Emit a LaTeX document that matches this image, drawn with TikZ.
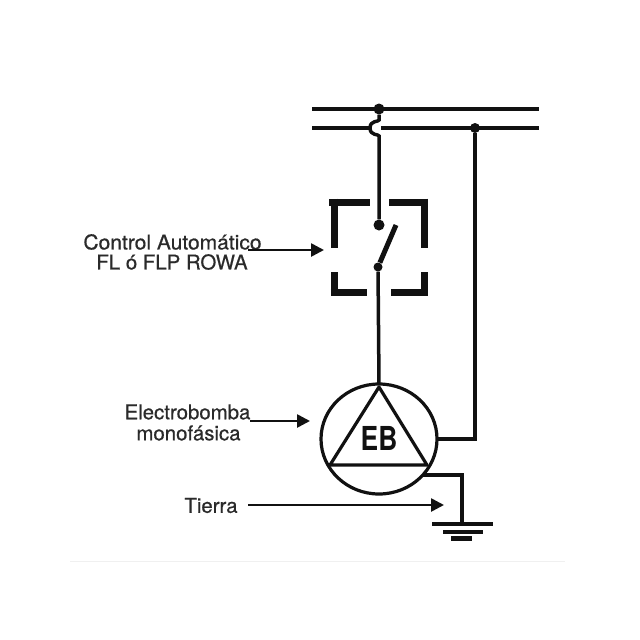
\documentclass[tikz,border=0pt]{standalone}
\usepackage{fontspec}
\setmainfont{TeX Gyre Heros}
\usetikzlibrary{arrows.meta,shapes.geometric}
\definecolor{ink}{HTML}{111111}
\definecolor{txt}{HTML}{2A2A2A}
\newfontfamily\lblfont[FakeBold=0.6]{TeX Gyre Heros}
\newfontfamily\ebfont[FakeStretch=0.8]{TeX Gyre Heros}
\tikzset{
 x=1pt,y=-1pt,
 wire/.style={draw=ink,line width=3.5pt},
 bus/.style={draw=ink,line width=4pt},
 frame/.style={draw=ink,line width=7pt,line cap=butt,line join=miter},
 pointer/.style={draw=ink,line width=2.6pt,-{Triangle[length=13pt,width=13pt]}},
 label/.style={text=txt,font=\lblfont\fontsize{20.4}{22}\selectfont,inner sep=0pt,align=center},
 dot/.style={circle,fill=ink,inner sep=0pt,minimum size=#1},
 groundbar/.style={draw=ink,line cap=butt},
}
\begin{document}
\begin{tikzpicture}
\useasboundingbox (0,0) rectangle (640,640);
% buses
\coordinate (busAL) at (312,109); \coordinate (busAR) at (539,109);
\coordinate (busBL) at (312,128); \coordinate (busBR) at (539,128);
\coordinate (hopT) at (379,120); \coordinate (hopB) at (379,136);
\coordinate (busBgap) at (381,128); \coordinate (busBhop) at (372,128);
\node[dot=11pt] (jA) at (379,109) {};
\node[dot=10pt] (jB) at (475,128) {};
\draw[bus] (busAL) -- (busAR);
\draw[bus] (busBL) -- (busBhop);
\draw[bus] (busBgap) -- (busBR);
% switch
\node[dot=11pt] (swT) at (379,225) {};
\node[dot=9pt] (swB) at (378,267) {};
\coordinate (blade) at (396,225);
\draw[wire] (jA) -- (hopT) .. controls (379,122) and (370,120) .. (370,128) .. controls (370,136) and (379,134) .. (hopB) -- (swT);
\draw[draw=ink,line width=5pt] (swB) -- (blade);
% frame
\draw[frame] (329,202) -- (370,202);
\draw[frame] (334,198.5) -- (334,248);
\draw[frame] (389,202) -- (428,202);
\draw[frame] (424,198.5) -- (424,248);
\draw[frame] (334,272) -- (334,295.5) ;
\draw[frame] (330.5,292) -- (367,292);
\draw[frame] (424,272) -- (424,295.5);
\draw[frame] (391,292) -- (427.5,292);
% pump
\node[draw=ink,line width=3.2pt,ellipse,minimum width=116pt,minimum height=110pt,inner sep=0pt,outer sep=0pt] (pump) at (379,439) {};
\coordinate (tA) at (379,387); \coordinate (tL) at (330,465); \coordinate (tR) at (427,465);
\draw[draw=ink,line width=3.2pt,line join=round] (tA) -- (tL) -- (tR) -- cycle;
\node[text=ink,inner sep=0pt,font=\ebfont\bfseries\fontsize{33}{33}\selectfont] (eb) at (379,438.5) {EB};
\draw[wire] (swB) -- (pump.north);
\coordinate (cR) at (475,439);
\draw[wire] (jB) -- (cR) -- (pump.east);
% ground
\coordinate (pG) at (423,475); \coordinate (gC) at (462,475); \coordinate (gB) at (462,523);
\draw[wire] (pG) -- (gC) -- (gB);
\draw[groundbar,line width=4pt] (432,523.5) -- (493,523.5);
\draw[groundbar,line width=4pt] (443,531.5) -- (483,531.5);
\draw[groundbar,line width=5pt] (451,538) -- (472,538);
% labels
\node[label,xscale=1.03] (lc) at (172.5,242) {Control Automático};
\node[label] (lf) at (172,262) {FL ó FLP ROWA};
\node[label] (le) at (187.5,412) {Electrobomba};
\node[label] (lm) at (188.5,433) {monofásica};
\node[label] (lt) at (211,505.5) {Tierra};
\coordinate (ac) at (248,250); \coordinate (acE) at (324,250);
\coordinate (ae) at (250,421); \coordinate (aeE) at (310,421);
\coordinate (at0) at (248,505); \coordinate (atE) at (444,505);
\draw[pointer] (ac) -- (acE);
\draw[pointer] (ae) -- (aeE);
\draw[pointer] (at0) -- (atE);
% faint rule
\coordinate (r1) at (70,561); \coordinate (r2) at (565,561);
\draw[draw=black!6,line width=1pt] (r1) -- (r2);
\end{tikzpicture}
\end{document}
